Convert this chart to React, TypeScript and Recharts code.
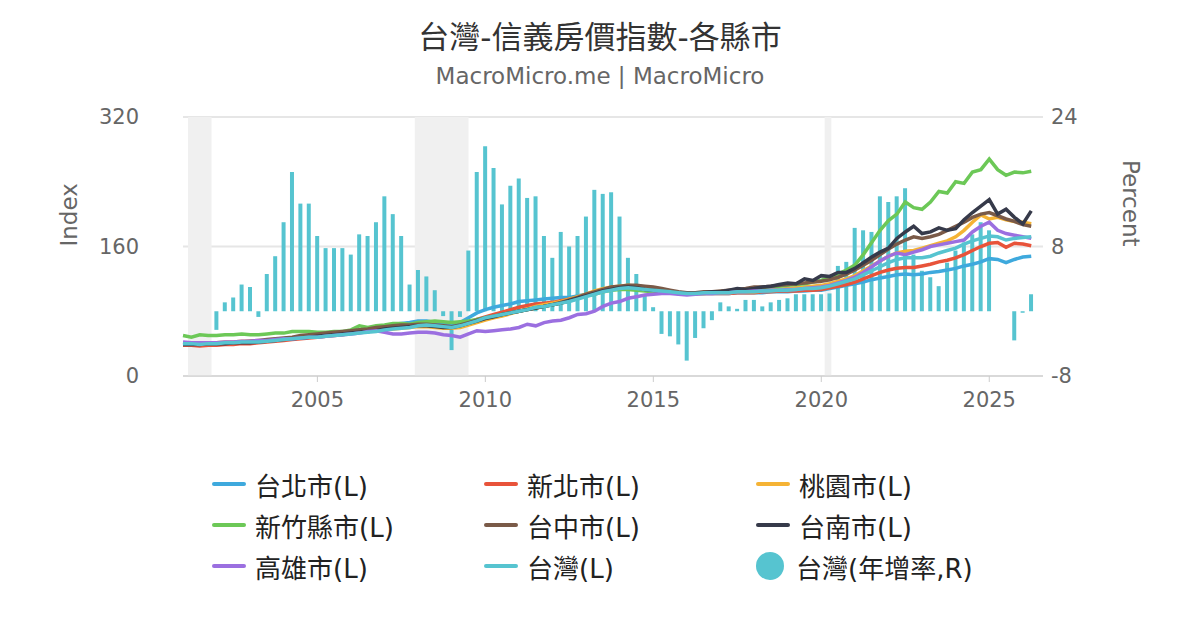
import { ComposedChart, Line, Bar, XAxis, YAxis, CartesianGrid, ReferenceArea } from 'recharts'

// quarterly, 2001Q1 .. 2026Q2
const taipei = [
  41, 40, 40, 40, 40, 40, 41, 41, 41, 42, 43, 44, 46, 47, 48, 49, 50, 51, 52, 53, 55, 57, 58, 60, 62, 64, 65, 66,
  68, 68, 66, 64, 63, 66, 72, 78, 82, 85, 87, 89, 92, 93, 94, 95, 96, 97, 97, 99, 101, 104, 107, 109, 110, 110, 109, 108,
  107, 106, 104, 103, 102, 102, 102, 102, 102, 102, 103, 103, 103, 103, 104, 104, 104, 105, 105, 106, 106, 108, 110, 112,
  114, 116, 119, 121, 123, 125, 126, 125, 126, 128, 129, 131, 133, 136, 138, 141, 145, 144, 140, 144, 147, 148
]
const newTaipei = [
  38, 38, 37, 38, 38, 39, 39, 40, 40, 41, 42, 43, 44, 45, 46, 47, 48, 49, 50, 51, 53, 54, 55, 57, 59, 60, 61, 62,
  63, 62, 61, 60, 60, 62, 66, 70, 73, 76, 79, 82, 85, 87, 89, 90, 91, 93, 95, 97, 100, 103, 106, 108, 109, 110, 109, 108,
  107, 105, 104, 103, 102, 102, 102, 102, 102, 102, 103, 103, 103, 104, 104, 105, 105, 105, 106, 106, 107, 109, 111, 113,
  116, 120, 124, 128, 131, 133, 134, 134, 136, 138, 141, 143, 146, 150, 155, 160, 164, 165, 159, 164, 163, 161
]
const taoyuan = [
  40, 40, 41, 41, 41, 42, 42, 43, 43, 43, 44, 45, 46, 47, 48, 48, 49, 50, 51, 52, 53, 54, 55, 56, 57, 58, 59, 60,
  61, 61, 60, 59, 59, 60, 63, 66, 69, 72, 74, 77, 80, 83, 86, 88, 90, 92, 95, 98, 101, 105, 108, 110, 111, 112, 111, 109,
  107, 105, 104, 103, 102, 102, 103, 103, 103, 103, 104, 104, 104, 105, 106, 107, 108, 109, 110, 111, 112, 114, 117, 120,
  124, 130, 136, 142, 148, 152, 154, 155, 158, 161, 164, 167, 172, 180, 190, 199, 194, 196, 193, 191, 190, 188
]
const hsinchu = [
  50, 48, 51, 50, 50, 51, 51, 52, 51, 51, 52, 53, 53, 55, 55, 55, 54, 54, 55, 55, 57, 62, 60, 62, 63, 65, 65, 64,
  66, 67, 68, 67, 66, 67, 68, 70, 72, 74, 76, 78, 80, 82, 84, 86, 88, 90, 93, 96, 99, 101, 104, 106, 107, 107, 106, 105,
  104, 104, 103, 103, 103, 102, 102, 103, 104, 105, 106, 107, 108, 109, 110, 111, 112, 113, 114, 116, 118, 122, 126, 131,
  137, 150, 165, 180, 192, 200, 215, 208, 206, 215, 228, 226, 240, 238, 252, 255, 268, 255, 248, 252, 251, 253
]
const taichung = [
  40, 40, 39, 40, 40, 41, 41, 42, 43, 44, 45, 46, 47, 48, 50, 51, 52, 53, 54, 55, 56, 57, 58, 60, 61, 62, 63, 63,
  64, 64, 63, 62, 61, 63, 66, 69, 72, 74, 76, 78, 80, 82, 84, 86, 88, 91, 94, 97, 101, 104, 107, 110, 111, 112, 112, 111,
  110, 108, 106, 104, 103, 103, 104, 104, 105, 106, 107, 108, 110, 110, 111, 112, 113, 114, 115, 116, 117, 119, 122, 126,
  131, 137, 143, 150, 157, 163, 168, 172, 170, 172, 175, 180, 185, 190, 196, 200, 202, 198, 194, 191, 187, 185
]
const tainan = [
  39, 39, 39, 40, 40, 40, 41, 41, 41, 42, 43, 44, 45, 46, 47, 48, 49, 50, 51, 52, 53, 54, 55, 56, 58, 59, 60, 61,
  62, 62, 61, 60, 60, 62, 65, 68, 71, 73, 76, 78, 80, 82, 84, 86, 88, 90, 93, 96, 99, 102, 105, 107, 109, 110, 109, 107,
  106, 104, 103, 102, 102, 102, 103, 104, 104, 106, 108, 107, 108, 110, 111, 113, 115, 114, 120, 118, 124, 123, 128, 128,
  133, 140, 147, 153, 158, 170, 178, 185, 176, 178, 183, 180, 182, 193, 202, 210, 218, 200, 206, 196, 188, 204
]
const kaohsiung = [
  42, 41, 41, 41, 41, 42, 42, 43, 43, 44, 44, 45, 46, 46, 47, 48, 48, 49, 50, 51, 52, 53, 55, 56, 54, 52, 52, 53,
  54, 54, 53, 51, 50, 48, 52, 56, 55, 56, 57, 58, 60, 64, 62, 66, 68, 69, 72, 76, 77, 80, 86, 90, 92, 96, 98, 100,
  101, 102, 102, 101, 100, 101, 102, 102, 103, 103, 104, 104, 105, 105, 106, 106, 107, 107, 108, 109, 110, 112, 115, 118,
  122, 128, 135, 142, 148, 152, 150, 153, 156, 160, 162, 164, 166, 168, 178, 185, 190, 180, 176, 174, 172, 170
]
const taiwan = [
  40, 40, 39, 40, 40, 41, 41, 42, 42, 42, 43, 44, 45, 46, 47, 48, 48, 49, 50, 51, 52, 53, 54, 55, 57, 58, 59, 60,
  62, 63, 62, 61, 60, 62, 65, 68, 72, 74, 76, 78, 80, 82, 85, 86, 88, 90, 92, 95, 98, 101, 104, 106, 108, 109, 108, 107,
  106, 105, 104, 103, 102, 102, 103, 103, 103, 103, 104, 104, 104, 105, 105, 106, 106, 107, 108, 108, 109, 111, 114, 117,
  120, 125, 130, 135, 140, 144, 146, 146, 146, 148, 152, 155, 158, 163, 167, 170, 173, 172, 168, 170, 171, 172
]
const taiwanYoY: (number | null)[] = [
  null, null, null, null, -2.3, 1.1, 1.7, 3.3, 3.0, -0.7, 4.6, 6.8, 11.0, 17.2, 13.3, 13.3, 9.3, 7.8, 7.8, 7.8,
  7.0, 9.5, 9.3, 11.0, 14.2, 12.0, 9.3, 3.3, 5.1, 4.3, 2.6, -0.6, -4.8, -0.7, 7.5, 17.2, 20.4, 17.7, 13.2, 15.5,
  16.4, 14.0, 14.2, 9.3, 6.6, 9.8, 8.0, 9.3, 11.7, 15.0, 14.5, 14.7, 11.7, 6.6, 4.6, 2.0, 0.5, -2.8, -3.1, -4.1,
  -6.1, -3.3, -2.1, -1.1, 1.1, 0.6, 0.3, 1.4, 1.4, 0.6, 1.1, 1.4, 1.6, 2.1, 2.1, 2.1, 2.1, 2.2, 5.6, 6.1,
  10.3, 10.0, 9.8, 14.2, 13.5, 14.2, 15.2, 7.0, 5.0, 4.2, 3.1, 6.0, 7.5, 8.5, 9.5, 11.0, 10.0, null, null, -3.6,
  -0.2, 2.1
]
const xTicks = [2005, 2010, 2015, 2020, 2025]
const shaded = [[2001.15, 2001.85], [2007.9, 2009.5], [2020.1, 2020.3]]

const series = [
  { key: 'tp', name: '台北市(L)', color: '#3ea9dd', values: taipei },
  { key: 'ntp', name: '新北市(L)', color: '#e8533a', values: newTaipei },
  { key: 'ty', name: '桃園市(L)', color: '#f5b335', values: taoyuan },
  { key: 'hc', name: '新竹縣市(L)', color: '#6cc857', values: hsinchu },
  { key: 'tc', name: '台中市(L)', color: '#7a5a48', values: taichung },
  { key: 'tn', name: '台南市(L)', color: '#363a4a', values: tainan },
  { key: 'ks', name: '高雄市(L)', color: '#9b6fe0', values: kaohsiung },
  { key: 'tw', name: '台灣(L)', color: '#56c4d0', values: taiwan },
]
const barColor = '#56c4d0'

const data = taiwan.map((_, i) => {
  const row: any = { t: 2001 + i * 0.25, yoy: taiwanYoY[i] }
  series.forEach((s) => (row[s.key] = s.values[i]))
  return row
})

const font = '"DejaVu Sans", "Noto Sans CJK TC", sans-serif'
const tick = { fill: '#666', fontSize: 21, fontFamily: font }

export default function App() {
  return (
    <div style={{ position: 'relative', width: 1200, height: 630, margin: -8, background: '#fff', fontFamily: font }}>
      <div style={{ position: 'absolute', top: 12, width: 1200, textAlign: 'center', fontSize: 31, color: '#333' }}>
        台灣-信義房價指數-各縣市
      </div>
      <div style={{ position: 'absolute', top: 63, width: 1200, textAlign: 'center', fontSize: 23, color: '#666' }}>
        MacroMicro.me | MacroMicro
      </div>
      <div style={{ position: 'absolute', top: 0, left: 0 }}>
        <ComposedChart width={1200} height={430} data={data} margin={{ top: 117, left: 103, right: 77, bottom: 14 }}>
          <CartesianGrid yAxisId="l" vertical={false} stroke="#e6e6e6" strokeWidth={2} />
          {shaded.map(([a, b], i) => (
            <ReferenceArea key={i} yAxisId="l" x1={a} x2={b} fill="#f0f0f0" fillOpacity={1} stroke="none" />
          ))}
          <XAxis
            dataKey="t"
            type="number"
            domain={[2001, 2026.6]}
            ticks={xTicks}
            tick={tick}
            tickMargin={10}
            stroke="#ccc"
            height={40}
          />
          <YAxis
            yAxisId="l"
            domain={[0, 320]}
            ticks={[0, 160, 320]}
            tick={tick}
            axisLine={false}
            tickLine={false}
            width={80}
            tickMargin={38}
            label={{ value: 'Index', angle: -90, position: 'insideLeft', offset: -34, style: { ...tick, fontSize: 23 } }}
          />
          <YAxis
            yAxisId="r"
            orientation="right"
            domain={[-8, 24]}
            ticks={[-8, 8, 24]}
            tick={tick}
            axisLine={false}
            tickLine={false}
            width={80}
            tickMargin={2}
            label={{ value: 'Percent', angle: 90, position: 'insideRight', offset: -8, style: { ...tick, fontSize: 23 } }}
          />
          <Bar yAxisId="r" dataKey="yoy" fill={barColor} barSize={4} isAnimationActive={false} />
          {series.map((s) => (
            <Line
              key={s.key}
              yAxisId="l"
              dataKey={s.key}
              stroke={s.color}
              strokeWidth={3.5}
              dot={false}
              type="linear"
              isAnimationActive={false}
            />
          ))}
        </ComposedChart>
      </div>
      <div
        style={{
          position: 'absolute',
          top: 467,
          left: 212,
          display: 'grid',
          gridTemplateColumns: '272px 272px 272px',
          rowGap: 7,
          fontSize: 26,
          color: '#222',
        }}
      >
        {series.map((s) => (
          <div key={s.key} style={{ display: 'flex', alignItems: 'center', height: 34 }}>
            <span style={{ width: 34, height: 4, background: s.color, marginRight: 9, borderRadius: 2 }} />
            {s.name}
          </div>
        ))}
        <div style={{ display: 'flex', alignItems: 'center', height: 34 }}>
          <span style={{ width: 28, height: 28, background: barColor, borderRadius: 14, marginRight: 12 }} />
          台灣(年增率,R)
        </div>
      </div>
    </div>
  )
}
